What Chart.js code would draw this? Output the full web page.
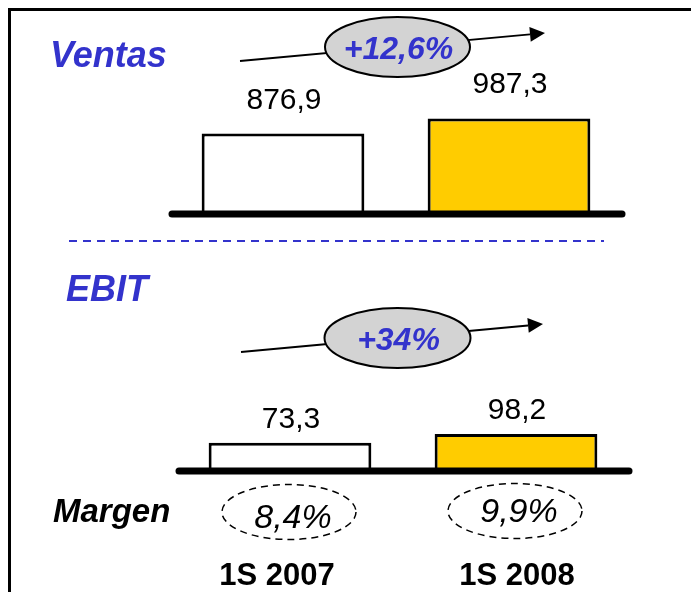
<!DOCTYPE html>
<html>
<head>
<meta charset="utf-8">
<script src="https://cdn.jsdelivr.net/npm/chart.js@4.4.0/dist/chart.umd.min.js"></script>
<style>
  html, body { margin: 0; padding: 0; background: #fff; overflow: hidden; }
  #wrap { position: relative; width: 691px; height: 592px; }
  #wrap canvas { position: absolute; left: 0; top: 0; }
</style>
</head>
<body>
<div id="wrap">
  <canvas id="ventasChart" width="691" height="592"></canvas>
  <canvas id="ebitChart" width="691" height="592"></canvas>
</div>
<script>
// Data
const periods = ['1S 2007', '1S 2008'];
const ventas = [876.9, 987.3];
const ebit = [73.3, 98.2];
const margen = [8.4, 9.9];
const ventasGrowth = 12.6;
const ebitGrowth = 34;

const blue = '#3333cc';
const yellow = '#ffcc00';
const FONT = '"Liberation Sans", Arial, sans-serif';

function fmt(v, d) {
  return v.toFixed(d).replace('.', ',');
}

function drawArrow(ctx, x1, y1, x2, y2) {
  const ang = Math.atan2(y2 - y1, x2 - x1);
  const len = 15, half = 7.5;
  const bx = x2 - len * Math.cos(ang), by = y2 - len * Math.sin(ang);
  ctx.save();
  ctx.strokeStyle = '#000';
  ctx.lineWidth = 2;
  ctx.beginPath();
  ctx.moveTo(x1, y1);
  ctx.lineTo(bx, by);
  ctx.stroke();
  ctx.fillStyle = '#000';
  ctx.beginPath();
  ctx.moveTo(x2, y2);
  ctx.lineTo(bx + half * Math.sin(ang), by - half * Math.cos(ang));
  ctx.lineTo(bx - half * Math.sin(ang), by + half * Math.cos(ang));
  ctx.closePath();
  ctx.fill();
  ctx.restore();
}

function drawBubble(ctx, cx, cy, rx, ry, text, baseY) {
  ctx.save();
  ctx.beginPath();
  ctx.ellipse(cx, cy, rx, ry, 0, 0, Math.PI * 2);
  ctx.fillStyle = '#d3d3d3';
  ctx.fill();
  ctx.lineWidth = 2;
  ctx.strokeStyle = '#000';
  ctx.stroke();
  ctx.fillStyle = blue;
  ctx.font = 'italic bold 32px ' + FONT;
  ctx.textAlign = 'center';
  ctx.textBaseline = 'alphabetic';
  ctx.fillText(text, cx + 1, baseY);
  ctx.restore();
}

// Draws the baseline, value labels, title and growth bubble for one panel
function panelPlugin(p) {
  return {
    id: 'panel_' + p.title,
    beforeDraw(chart) {
      if (p.before) p.before(chart.ctx);
    },
    afterDatasetsDraw(chart) {
      const ctx = chart.ctx;
      const area = chart.chartArea;
      const meta = chart.getDatasetMeta(0);
      const values = chart.data.datasets[0].data;

      // thick baseline
      ctx.save();
      ctx.strokeStyle = '#000';
      ctx.lineWidth = 7;
      ctx.lineCap = 'round';
      ctx.beginPath();
      ctx.moveTo(area.left + 2, area.bottom + 2);
      ctx.lineTo(area.right, area.bottom + 2);
      ctx.stroke();

      // value labels
      ctx.fillStyle = '#000';
      ctx.font = '30px ' + FONT;
      ctx.textAlign = 'center';
      ctx.textBaseline = 'alphabetic';
      meta.data.forEach(function(el, i) {
        ctx.fillText(fmt(values[i], 1), el.x + 1, el.y - p.labelGap);
      });

      // title
      ctx.fillStyle = blue;
      ctx.font = 'italic bold 36px ' + FONT;
      ctx.textAlign = 'left';
      ctx.fillText(p.title, p.titleX, p.titleY);
      ctx.restore();

      drawArrow(ctx, p.arrow[0], p.arrow[1], p.arrow[2], p.arrow[3]);
      drawBubble(ctx, p.bubble[0], p.bubble[1], p.bubble[2], p.bubble[3], p.growthText, p.bubble[4]);

      if (p.after) p.after(ctx, meta);
    }
  };
}

function barConfig(values, padding, yMin, yMax, plugin) {
  return {
    type: 'bar',
    data: {
      labels: periods,
      datasets: [{
        data: values,
        backgroundColor: ['#ffffff', yellow],
        borderColor: '#000',
        borderWidth: 3,
        barPercentage: 0.72,
        categoryPercentage: 1.0
      }]
    },
    options: {
      responsive: false,
      animation: false,
      layout: { padding: padding },
      plugins: {
        legend: { display: false },
        tooltip: { enabled: false }
      },
      scales: {
        x: { display: false },
        y: { display: false, min: yMin, max: yMax }
      }
    },
    plugins: [plugin]
  };
}

// Ventas panel
new Chart(document.getElementById('ventasChart'), barConfig(
  ventas,
  { left: 170, right: 69, top: 112, bottom: 380 },
  300, 1035,
  panelPlugin({
    title: 'Ventas',
    titleX: 50, titleY: 67,
    labelGap: 25,
    arrow: [240, 61, 545, 33],
    bubble: [397.5, 47, 72.5, 30, 59],
    growthText: '+' + fmt(ventasGrowth, 1) + '%',
    before(ctx) {
      // frame
      ctx.save();
      ctx.fillStyle = '#000';
      ctx.fillRect(8, 8, 683, 3);
      ctx.fillRect(8, 8, 3, 584);
      ctx.restore();
    },
    after(ctx) {
      // dashed separator
      ctx.save();
      ctx.strokeStyle = blue;
      ctx.lineWidth = 2;
      ctx.setLineDash([8, 6]);
      ctx.beginPath();
      ctx.moveTo(69, 241);
      ctx.lineTo(604, 241);
      ctx.stroke();
      ctx.restore();
    }
  })
));

// EBIT panel
new Chart(document.getElementById('ebitChart'), barConfig(
  ebit,
  { left: 177, right: 62, top: 369, bottom: 123 },
  0, 280,
  panelPlugin({
    title: 'EBIT',
    titleX: 66, titleY: 301,
    labelGap: 15,
    arrow: [241, 352, 543, 324],
    bubble: [397.5, 338, 73, 30, 350],
    growthText: '+' + fmt(ebitGrowth, 0) + '%',
    after(ctx, meta) {
      ctx.save();
      ctx.fillStyle = '#000';
      ctx.font = 'italic bold 33px ' + FONT;
      ctx.textAlign = 'left';
      ctx.fillText('Margen', 53, 522);

      const ellY = [512, 511];
      const txtY = [528, 522];
      const catDx = [-13, 1];
      meta.data.forEach(function(el, i) {
        ctx.save();
        ctx.strokeStyle = '#000';
        ctx.lineWidth = 1.5;
        ctx.setLineDash([7, 5]);
        ctx.beginPath();
        ctx.ellipse(el.x - 1, ellY[i], 67, 27.5, 0, 0, Math.PI * 2);
        ctx.stroke();
        ctx.restore();

        ctx.textAlign = 'center';
        ctx.font = 'italic 34px ' + FONT;
        ctx.fillText(fmt(margen[i], 1) + '%', el.x + 3, txtY[i]);

        ctx.font = 'bold 31px ' + FONT;
        ctx.fillText(periods[i], el.x + catDx[i], 585);
      });
      ctx.restore();
    }
  })
));
</script>
</body>
</html>
